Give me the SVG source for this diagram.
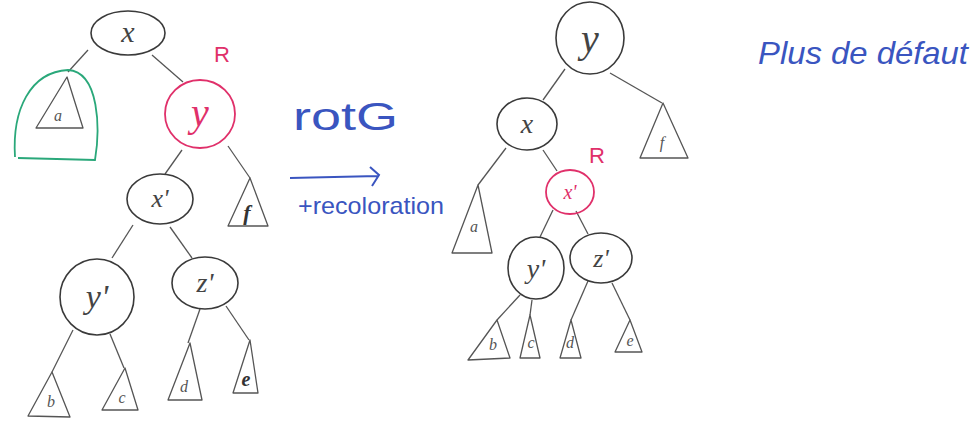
<svg xmlns="http://www.w3.org/2000/svg" width="978" height="430" viewBox="0 0 978 430">
<style>
.n{fill:none;stroke:#3a3a3a;stroke-width:1.6}
.r{fill:none;stroke:#e0306a;stroke-width:1.8}
.t{fill:none;stroke:#555;stroke-width:1.3;stroke-linejoin:round}
.e{fill:none;stroke:#555;stroke-width:1.3}
.lb{font-family:"Liberation Serif",serif;font-style:italic;fill:#444;text-anchor:middle}
.sm{font-family:"Liberation Serif",serif;font-style:italic;fill:#555;text-anchor:middle;font-size:16px}
.red{font-family:"Liberation Sans",sans-serif;fill:#e0306a;font-size:22px}
.blue{font-family:"Liberation Sans",sans-serif;fill:#3a55c0}
</style>
<rect width="978" height="430" fill="#fff"/>
<g id="connectors">
<line class="e" x1="88" y1="50" x2="68" y2="72"/>
<line class="e" x1="152" y1="55" x2="183" y2="82"/>
<line class="e" x1="182" y1="150" x2="165" y2="174"/>
<line class="e" x1="228" y1="146" x2="250" y2="178"/>
<line class="e" x1="133" y1="225" x2="112" y2="258"/>
<line class="e" x1="170" y1="227" x2="192" y2="258"/>
<line class="e" x1="73" y1="330" x2="52" y2="372"/>
<line class="e" x1="110" y1="334" x2="124" y2="368"/>
<line class="e" x1="200" y1="309" x2="188" y2="343"/>
<line class="e" x1="226" y1="306" x2="249" y2="340"/>
<line class="e" x1="565" y1="69" x2="543" y2="100"/>
<line class="e" x1="610" y1="73" x2="662" y2="103"/>
<line class="e" x1="506" y1="148" x2="478" y2="185"/>
<line class="e" x1="543" y1="150" x2="557" y2="171"/>
<line class="e" x1="553" y1="210" x2="540" y2="237"/>
<line class="e" x1="576" y1="211" x2="588" y2="234"/>
<line class="e" x1="520" y1="295" x2="497" y2="320"/>
<line class="e" x1="532" y1="300" x2="530" y2="315"/>
<line class="e" x1="588" y1="281" x2="571" y2="320"/>
<line class="e" x1="612" y1="283" x2="630" y2="320"/>
</g>
<g id="left-x"><ellipse class="n" cx="128" cy="33" rx="37" ry="22"/><text class="lb" x="128" y="42" font-size="30">x</text></g>
<g id="left-a-highlight"><path d="M15 157 C12 110 30 72 68 70 C100 72 100 130 95 160 L18 158" fill="none" stroke="#2aa87a" stroke-width="1.8"/></g>
<g id="left-a"><path class="t" d="M67 77 L36 128 L83 128 Z"/><text class="sm" x="58" y="121">a</text></g>
<g id="left-y"><ellipse class="r" cx="200" cy="114" rx="35" ry="34"/><text x="200" y="126" font-family="Liberation Serif,serif" font-style="italic" font-size="40" fill="#e0306a" text-anchor="middle">y</text></g>
<text class="red" x="214" y="62">R</text>
<g id="left-f"><path class="t" d="M250 178 L228 226 L268 226 Z"/><text x="247" y="220" font-family="Liberation Serif,serif" font-style="italic" font-size="22" fill="#333" text-anchor="middle" font-weight="bold">f</text></g>
<g id="left-x2"><ellipse class="n" cx="160" cy="199" rx="33" ry="25"/><text class="lb" x="160" y="207" font-size="26">x'</text></g>
<g id="left-y2"><ellipse class="n" cx="97" cy="297" rx="37" ry="38"/><text class="lb" x="97" y="308" font-size="34">y'</text></g>
<g id="left-z2"><ellipse class="n" cx="205" cy="283" rx="33" ry="26"/><text class="lb" x="205" y="292" font-size="28">z'</text></g>
<g id="left-b"><path class="t" d="M52 372 L28 416 L70 417 Z"/><text class="sm" x="51" y="407">b</text></g>
<g id="left-c"><path class="t" d="M125 368 L102 410 L138 410 Z"/><text class="sm" x="122" y="403">c</text></g>
<g id="left-d"><path class="t" d="M190 343 L168 400 L202 400 Z"/><text class="sm" x="184" y="392">d</text></g>
<g id="left-e"><path class="t" d="M250 340 L233 393 L258 393 Z"/><text x="246" y="386" font-family="Liberation Serif,serif" font-style="italic" font-size="20" fill="#333" text-anchor="middle" font-weight="bold">e</text></g>
<g id="arrow">
<text class="blue" x="293" y="130" font-size="38" textLength="105" lengthAdjust="spacingAndGlyphs">rotG</text>
<path d="M290 178 L378 176 M370 167 L379 175 L372 186" fill="none" stroke="#3a55c0" stroke-width="2"/>
<text class="blue" x="298" y="214" font-size="24" textLength="146" lengthAdjust="spacingAndGlyphs">+recoloration</text>
</g>
<g id="right-y"><ellipse class="n" cx="590" cy="38" rx="34" ry="36" stroke-width="2"/><text class="lb" x="590" y="52" font-size="40">y</text></g>
<g id="right-x"><ellipse class="n" cx="527" cy="124" rx="30" ry="26"/><text class="lb" x="527" y="133" font-size="28">x</text></g>
<g id="right-f"><path class="t" d="M663 103 L640 158 L688 158 Z"/><text class="sm" x="662" y="148">f</text></g>
<text class="red" x="589" y="163">R</text>
<g id="right-x2"><ellipse class="r" cx="570" cy="192" rx="24" ry="22"/><text x="570" y="199" font-family="Liberation Serif,serif" font-style="italic" font-size="20" fill="#e0306a" text-anchor="middle">x'</text></g>
<g id="right-a"><path class="t" d="M478 185 L452 253 L492 253 Z"/><text class="sm" x="474" y="232">a</text></g>
<g id="right-y2"><ellipse class="n" cx="536" cy="268" rx="28" ry="31"/><text class="lb" x="536" y="278" font-size="28">y'</text></g>
<g id="right-z2"><ellipse class="n" cx="601" cy="258" rx="31" ry="25"/><text class="lb" x="601" y="267" font-size="26">z'</text></g>
<g id="right-b"><path class="t" d="M497 320 L468 360 L510 358 Z"/><text class="sm" x="493" y="350">b</text></g>
<g id="right-c"><path class="t" d="M530 315 L520 358 L540 358 Z"/><text class="sm" x="531" y="348">c</text></g>
<g id="right-d"><path class="t" d="M571 320 L560 358 L581 358 Z"/><text class="sm" x="570" y="348">d</text></g>
<g id="right-e"><path class="t" d="M630 320 L615 352 L642 352 Z"/><text class="sm" x="630" y="346">e</text></g>
<text class="blue" x="758" y="64" font-size="32" font-style="italic" textLength="210" lengthAdjust="spacingAndGlyphs">Plus de défaut</text>
</svg>
